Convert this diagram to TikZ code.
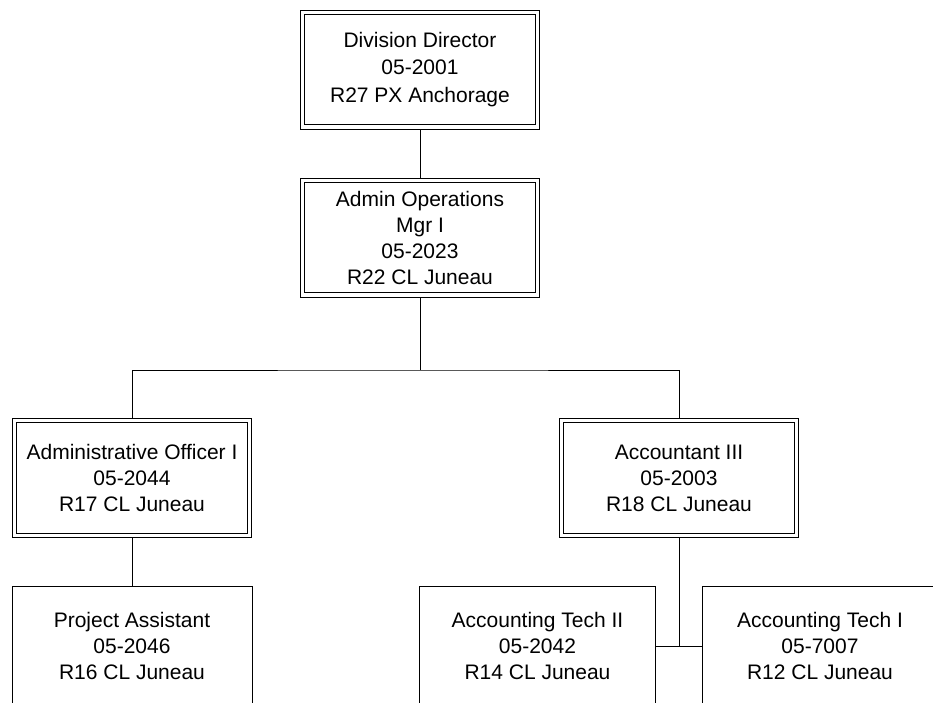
\documentclass[tikz,border=0pt]{standalone}
\usepackage{fontspec}
\setmainfont{Liberation Sans}
\usepackage{tikz}
\usetikzlibrary{positioning, calc}

\begin{document}
\begin{tikzpicture}[x=0.75pt, y=-0.75pt,
  font=\fontsize{15.75}{19.5}\selectfont,
  every node/.style={align=center, inner sep=0pt, fill=white},
  box/.style={draw, line width=0.75pt, minimum width=180pt, minimum height=90pt, outer sep=0pt},
  dbox/.style={draw, line width=0.75pt, double, double distance=2.6pt, minimum width=176.6pt, minimum height=85.9pt, outer sep=1.9pt},
  link/.style={line width=0.75pt}]
\useasboundingbox (0,0) rectangle (933,703);
\clip (0,0) rectangle (933,703);

\node[dbox, font=\fontsize{15.75}{20.6}\selectfont] (dir) at (420,69.5) {Division Director\\05-2001\\R27 PX Anchorage};
\node[dbox] (ops) at (420,237.5) {Admin Operations\\Mgr I\\05-2023\\R22 CL Juneau};
\node[dbox] (aoff) at (132,478) {Administrative Officer I\\05-2044\\R17 CL Juneau};
\node[dbox] (acct) at (679,478) {Accountant III\\05-2003\\R18 CL Juneau};

\node[box] (proj) at (132,646) {Project Assistant\\05-2046\\R16 CL Juneau};
\node[box, minimum width=177pt] (tech2) at (537.5,646) {Accounting Tech II\\05-2042\\R14 CL Juneau};
\node[box, minimum width=177pt] (tech1) at (820,646) {Accounting Tech I\\05-7007\\R12 CL Juneau};

\coordinate (bus) at (420,370);
\coordinate (tj) at (acct.south |- tech2.east);

\draw[link] (dir) -- (ops);
\draw[link] (ops) -- (bus);
\draw[link] (aoff.north) |- (bus) -| (acct.north);
\draw[link] (aoff) -- (proj);
\draw[link] (acct) -- (tj);
\draw[link] (tech2) -- (tech1);

\end{tikzpicture}
\end{document}
